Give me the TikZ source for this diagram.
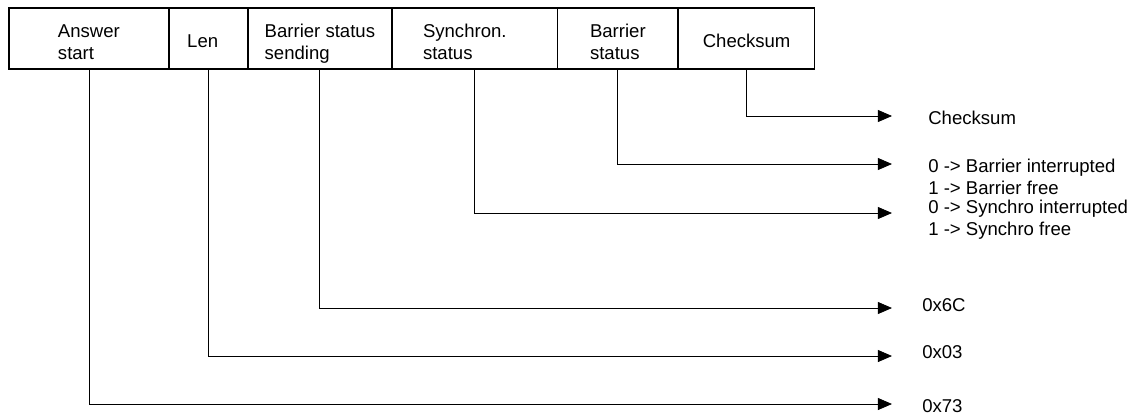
\documentclass[tikz,border=0pt]{standalone}
\usepackage{fontspec}
\setmainfont{Liberation Sans}
\usetikzlibrary{arrows.meta, positioning, matrix}
\newcommand{\twolines}[2]{\raisebox{-4.3pt}[\height][\depth]{\begin{tabular}{@{}l@{}}#1\\#2\end{tabular}}}
\newcommand{\oneline}[1]{\raisebox{-2pt}[\height][\depth]{#1}}

\begin{document}
\begin{tikzpicture}[
          x=0.025cm, y=-0.025cm,
          font=\fontsize{13.2}{15.6}\selectfont,
          field/.style={draw, line width=0.9pt, minimum height=1.525cm, inner sep=0pt, anchor=center},
          % Field table
          table/.style={
              matrix of nodes,
              nodes={field},
              column sep=-\pgflinewidth,
              row sep=-\pgflinewidth,
              inner sep=0pt,
              ampersand replacement=\&
            },
          link/.style={-{Triangle[length=10pt, width=8.5pt]}, line width=0.6pt},
          lab/.style={anchor=west, align=left, inner sep=0pt}
        ]
        \useasboundingbox (0,0) rectangle (1143,416);

        % -------- Frame fields --------
        \matrix [table, anchor=north west] (F) at (8,7) {
        |[minimum width=4cm]| \twolines{Answer}{start} \&
        |[minimum width=1.95cm]| \oneline{Len}\hspace{8.5pt} \&
        |[minimum width=3.575cm]| \twolines{Barrier status}{sending} \&
        |[minimum width=4.125cm]| \twolines{Synchron.}{status}\hspace{14pt} \&
        |[minimum width=3cm]| \twolines{Barrier}{status} \&
        |[minimum width=3.4cm]| \oneline{Checksum} \\
        };

        % -------- Arrow ends --------
        \coordinate (e6) at (892,116);
        \coordinate (e5) at (892,164);
        \coordinate (e4) at (892,213);
        \coordinate (e3) at (892,308);
        \coordinate (e2) at (892,356);
        \coordinate (e1) at (892,404);

        % -------- Meanings --------
        \node[lab] (l6) at (928,118) {Checksum};
        \node[lab] (l5) at (928,177) {0 -> Barrier interrupted\\1 -> Barrier free};
        \node[lab] (l4) at (928,220) {0 -> Synchro interrupted\\1 -> Synchro free};
        \node[lab] (l3) at (922,305) {0x6C};
        \node[lab] (l2) at (922,352) {0x03};
        \node[lab] (l1) at (922,406) {0x73};

        % -------- Connectors --------
        \draw[link] (F-1-6.south) |- (e6);
        \draw[link] (F-1-5.south) |- (e5);
        \draw[link] (F-1-4.south) |- (e4);
        \draw[link] (F-1-3.south) |- (e3);
        \draw[link] (F-1-2.south) |- (e2);
        \draw[link] (F-1-1.south) |- (e1);

      \end{tikzpicture}
\end{document}
